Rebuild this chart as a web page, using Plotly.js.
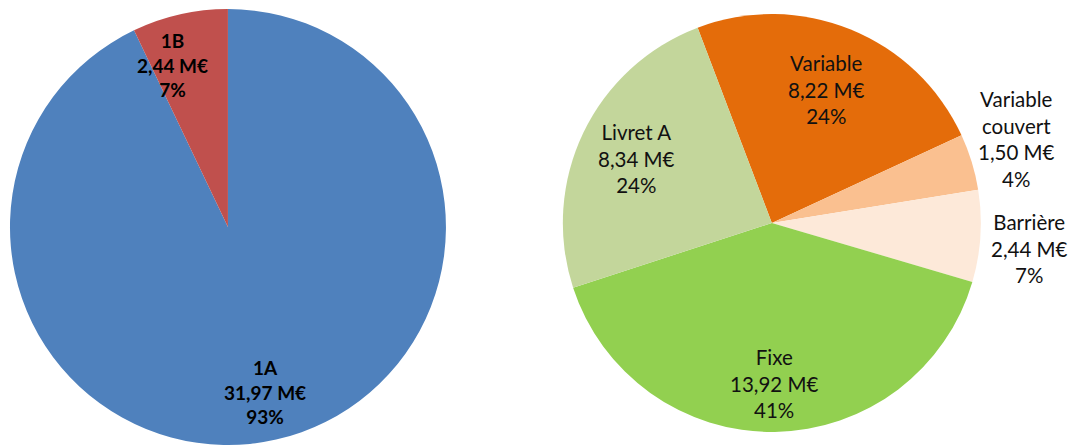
<!DOCTYPE html>
<html><head><meta charset="utf-8">
<script src="https://cdn.plot.ly/plotly-3.0.1.min.js"></script>
<style>html,body{margin:0;padding:0;background:#fff}#chart{width:1072px;height:446px}</style>
</head><body><div id="chart"></div>
<script>
// Left pie
const leftLabels = ['1A', '1B'];
const leftValues = [31.97, 2.44];
const leftPct = ['93%', '7%'];
const leftColors = ['#4F81BD', '#C0504D'];

// Right pie
const rightLabels = ['Variable', 'Variable<br>couvert', 'Barrière', 'Fixe', 'Livret A'];
const rightValues = [8.22, 1.50, 2.44, 13.92, 8.34];
const rightPct = ['24%', '4%', '7%', '41%', '24%'];
const rightColors = ['#E46C0A', '#FAC090', '#FDE9D9', '#92D050', '#C3D69B'];

// label placement style (fraction of radius, angular nudge in degrees)
const leftLabelRadius = [0.775, 0.785];
const leftLabelNudge = [0, -6];
const rightLabelRadius = [0.69, 1.24, 1.24, 0.766, 0.72];
const rightLabelNudge = [0, -2, 2, 0, 0];

const W = 1072, H = 446;
const leftDomain = {x: [0.0093, 0.416], y: [0.0022, 0.9798]};
const rightDomain = {x: [0.525, 0.915], y: [0.0314, 0.9686]};
const leftRotation = 0, rightRotation = -20.8;

const fontFam = 'Lato, "Open Sans", sans-serif';
const fmt = v => v.toFixed(2).replace('.', ',');

function labelAnnotations(labels, values, pct, domain, rotation, radii, nudge, font) {
  const total = values.reduce((a, b) => a + b, 0);
  const cx = (domain.x[0] + domain.x[1]) / 2 * W;
  const cy = (1 - (domain.y[0] + domain.y[1]) / 2) * H;
  const R = Math.min((domain.x[1] - domain.x[0]) * W, (domain.y[1] - domain.y[0]) * H) / 2;
  let cum = 0;
  return values.map((v, i) => {
    const mid = (rotation + nudge[i] + 360 * (cum + v / 2) / total) * Math.PI / 180;
    cum += v;
    const px = cx + radii[i] * R * Math.sin(mid);
    const py = cy - radii[i] * R * Math.cos(mid);
    return {
      xref: 'paper', yref: 'paper', x: px / W, y: 1 - py / H,
      xanchor: 'center', yanchor: 'middle', showarrow: false,
      text: labels[i] + '<br>' + fmt(v) + ' M€<br>' + pct[i],
      font: font, align: 'center'
    };
  });
}

const traces = [
  {
    type: 'pie', labels: leftLabels, values: leftValues,
    sort: false, direction: 'clockwise', rotation: leftRotation,
    marker: {colors: leftColors, line: {color: '#ffffff', width: 0}},
    textinfo: 'none', hoverinfo: 'label+value', showlegend: false,
    domain: leftDomain
  },
  {
    type: 'pie', labels: rightLabels, values: rightValues,
    sort: false, direction: 'clockwise', rotation: rightRotation,
    marker: {colors: rightColors, line: {color: '#ffffff', width: 0}},
    textinfo: 'none', hoverinfo: 'label+value', showlegend: false,
    domain: rightDomain
  }
];

const annotations = [].concat(
  labelAnnotations(leftLabels, leftValues, leftPct, leftDomain, leftRotation, leftLabelRadius, leftLabelNudge,
    {family: fontFam, size: 19, color: '#000', weight: 'bold'}),
  labelAnnotations(rightLabels, rightValues, rightPct, rightDomain, rightRotation, rightLabelRadius, rightLabelNudge,
    {family: fontFam, size: 20.5, color: '#111'})
);

const layout = {
  width: W, height: H,
  margin: {l: 0, r: 0, t: 0, b: 0},
  paper_bgcolor: '#ffffff',
  separators: ', ',
  showlegend: false,
  annotations: annotations
};

Plotly.newPlot('chart', traces, layout, {displayModeBar: false, staticPlot: true});
</script>
</body></html>
